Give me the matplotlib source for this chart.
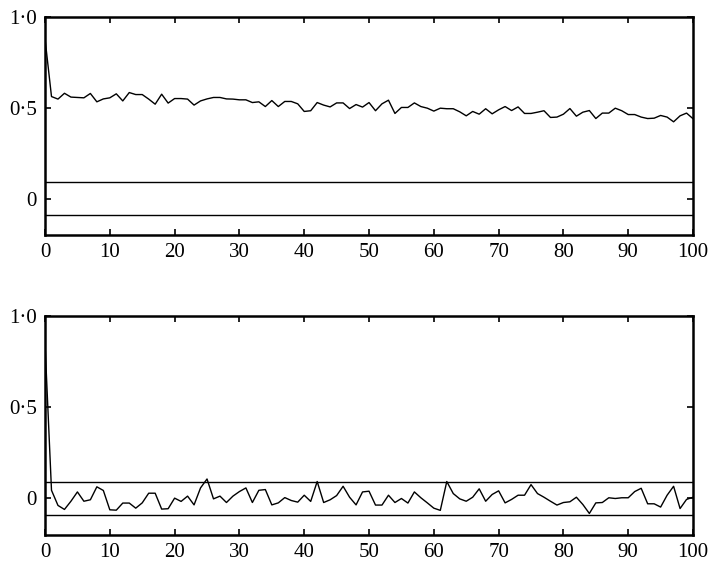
import numpy as np
import matplotlib.pyplot as plt

plt.rcParams['font.family'] = ['Liberation Serif', 'DejaVu Serif']

lags = np.arange(0, 101)

# top panel: slowly decaying autocorrelation
acf_top = [
    0.88, 0.562, 0.548, 0.580, 0.559, 0.557, 0.555, 0.579, 0.533, 0.549,
    0.555, 0.577, 0.538, 0.584, 0.573, 0.573, 0.548, 0.520, 0.575, 0.526,
    0.551, 0.551, 0.548, 0.515, 0.538, 0.549, 0.557, 0.557, 0.549, 0.548,
    0.544, 0.544, 0.529, 0.533, 0.507, 0.540, 0.507, 0.535, 0.535, 0.522,
    0.480, 0.484, 0.529, 0.515, 0.505, 0.527, 0.527, 0.496, 0.518, 0.504,
    0.529, 0.484, 0.522, 0.542, 0.469, 0.502, 0.502, 0.527, 0.507, 0.498,
    0.482, 0.498, 0.495, 0.495, 0.478, 0.456, 0.480, 0.465, 0.495, 0.467,
    0.489, 0.507, 0.485, 0.505, 0.469, 0.469, 0.476, 0.484, 0.447, 0.449,
    0.465, 0.496, 0.454, 0.476, 0.485, 0.441, 0.471, 0.471, 0.498, 0.484,
    0.463, 0.463, 0.449, 0.441, 0.443, 0.458, 0.449, 0.423, 0.456, 0.471,
    0.440,
]

# bottom panel: autocorrelation dropping to noise
acf_bottom = [
    0.85, 0.045, -0.038, -0.060, -0.015, 0.036, -0.015, -0.007, 0.064, 0.044,
    -0.062, -0.064, -0.025, -0.025, -0.053, -0.024, 0.029, 0.029, -0.058, -0.056,
    0.002, -0.016, 0.013, -0.035, 0.058, 0.107, -0.002, 0.013, -0.022, 0.013,
    0.038, 0.058, -0.022, 0.045, 0.049, -0.035, -0.024, 0.005, -0.011, -0.020,
    0.018, -0.016, 0.093, -0.022, -0.007, 0.016, 0.067, 0.007, -0.035, 0.036,
    0.040, -0.036, -0.036, 0.018, -0.022, 0.000, -0.025, 0.036, 0.004, -0.024,
    -0.053, -0.065, 0.093, 0.027, -0.002, -0.015, 0.007, 0.053, -0.015, 0.022,
    0.042, -0.024, -0.005, 0.018, 0.018, 0.076, 0.027, 0.007, -0.015, -0.036,
    -0.022, -0.018, 0.007, -0.033, -0.082, -0.024, -0.022, 0.004, 0.000, 0.004,
    0.004, 0.038, 0.056, -0.029, -0.029, -0.047, 0.018, 0.067, -0.055, -0.005,
    0.007,
]

conf_band = 0.09
xticks = list(range(0, 101, 10))
yticks = [0, 0.5, 1.0]
ytick_labels = ['0', '0\u00b75', '1\u00b70']

fig = plt.figure(figsize=(7.1, 5.65), dpi=100)
ax1 = fig.add_axes([0.0634, 0.584, 0.9127, 0.386])
ax2 = fig.add_axes([0.0634, 0.0531, 0.9127, 0.3876])

for ax, vals in [(ax1, acf_top), (ax2, acf_bottom)]:
    ax.plot(lags, vals, color='black', lw=1.0)
    ax.axhline(conf_band, color='black', lw=1.0)
    ax.axhline(-conf_band, color='black', lw=1.0)
    ax.set_xlim(0, 100)
    ax.set_ylim(-0.2, 1.0)
    ax.set_xticks(xticks)
    ax.set_xticklabels([str(t) for t in xticks])
    ax.set_yticks(yticks)
    ax.set_yticklabels(ytick_labels)
    ax.tick_params(direction='in', top=True, right=True, length=4, width=1.2,
                   labelsize=15, pad=6)
    for s in ax.spines.values():
        s.set_linewidth(1.8)

fig.savefig('out.png', dpi=100)
